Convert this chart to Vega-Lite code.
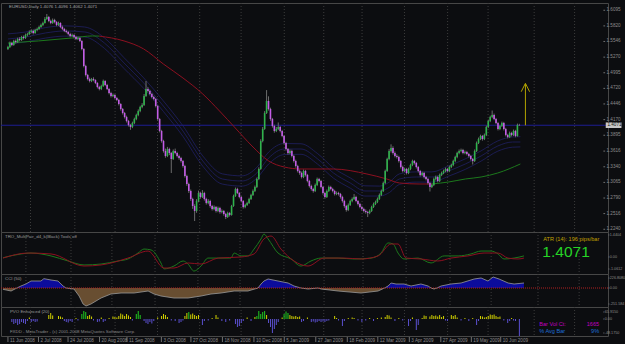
{
"$schema": "https://vega.github.io/schema/vega-lite/v6.json",
"background": "#0c0d10",
"padding": {"left": 0, "top": 2, "right": 0, "bottom": 0},
"bounds": "flush",
"spacing": 0,
"config": {
 "view": {"stroke": "#474747", "strokeWidth": 1},
 "axis": {"disable": true},
 "text": {"font": "Liberation Sans"}
},
"datasets": {
 "grid": [{"i":11.6},{"i":34.4},{"i":55.1},{"i":76.9},{"i":98.6},{"i":119.9},{"i":142.1},{"i":162.4},{"i":182.1},{"i":203.9},{"i":226.1},{"i":246.9},{"i":270.6},{"i":291.4}],
 "pt": [{"v":1.6095},{"v":1.582},{"v":1.5546},{"v":1.527},{"v":1.4995},{"v":1.472},{"v":1.4446},{"v":1.417},{"v":1.3895},{"v":1.3616},{"v":1.334},{"v":1.3065},{"v":1.279},{"v":1.2516},{"v":1.224}],
 "trt": [{"v":1.4404,"s":"1.4404"},{"v":0,"s":"0.00"},{"v":-0.784,"s":"-1.0612"}],
 "cct": [{"v":220,"s":"226.8080"},{"v":0,"s":"0.00"},{"v":-352,"s":"-251.584"}],
 "vlt": [{"v":70,"s":"65.9150"},{"v":0,"s":"0.00"},{"v":-140,"s":"-48.1750"}],
 "dt": [{"i":0,"s":"11 Jun 2008"},{"i":15.7,"s":"2 Jul 2008"},{"i":30.9,"s":"24 Jul 2008"},{"i":47.1,"s":"20 Aug 2008"},{"i":61.2,"s":"11 Sep 2008"},{"i":78.9,"s":"3 Oct 2008"},{"i":94.1,"s":"27 Oct 2008"},{"i":110.3,"s":"18 Nov 2008"},{"i":126.5,"s":"10 Dec 2008"},{"i":142.1,"s":"5 Jan 2009"},{"i":158.3,"s":"27 Jan 2009"},{"i":174.5,"s":"18 Feb 2009"},{"i":190.2,"s":"12 Mar 2009"},{"i":206.4,"s":"3 Apr 2009"},{"i":222.6,"s":"27 Apr 2009"},{"i":238.3,"s":"19 May 2009"},{"i":253.4,"s":"10 Jun 2009"}],
 "px": [
{"i":0,"o":1.5414,"h":1.5470,"l":1.5395,"c":1.5449},{"i":1,"o":1.5449,"h":1.5545,"l":1.5430,"c":1.5519},{"i":2,"o":1.5519,"h":1.5540,"l":1.5462,"c":1.5484},{"i":3,"o":1.5484,"h":1.5575,"l":1.5470,"c":1.5555},{"i":4,"o":1.5555,"h":1.5580,"l":1.5510,"c":1.5537},{"i":5,"o":1.5537,"h":1.5612,"l":1.5520,"c":1.5590},{"i":6,"o":1.5590,"h":1.5620,"l":1.5548,"c":1.5572},{"i":7,"o":1.5572,"h":1.5645,"l":1.5555,"c":1.5625},{"i":8,"o":1.5625,"h":1.5650,"l":1.5580,"c":1.5607},{"i":9,"o":1.5607,"h":1.5685,"l":1.5590,"c":1.5660},
{"i":10,"o":1.5660,"h":1.5700,"l":1.5635,"c":1.5678},{"i":11,"o":1.5678,"h":1.5740,"l":1.5660,"c":1.5713},{"i":12,"o":1.5713,"h":1.5760,"l":1.5690,"c":1.5731},{"i":13,"o":1.5731,"h":1.5755,"l":1.5670,"c":1.5695},{"i":14,"o":1.5695,"h":1.5770,"l":1.5680,"c":1.5748},{"i":15,"o":1.5748,"h":1.5790,"l":1.5725,"c":1.5766},{"i":16,"o":1.5766,"h":1.5825,"l":1.5750,"c":1.5801},{"i":17,"o":1.5801,"h":1.5860,"l":1.5785,"c":1.5836},{"i":18,"o":1.5836,"h":1.5895,"l":1.5815,"c":1.5871},{"i":19,"o":1.5871,"h":1.5975,"l":1.5860,"c":1.5942},
{"i":20,"o":1.5942,"h":1.6030,"l":1.5925,"c":1.5977},{"i":21,"o":1.5977,"h":1.5995,"l":1.5885,"c":1.5907},{"i":22,"o":1.5907,"h":1.5930,"l":1.5850,"c":1.5871},{"i":23,"o":1.5871,"h":1.5950,"l":1.5855,"c":1.5924},{"i":24,"o":1.5924,"h":1.5945,"l":1.5865,"c":1.5889},{"i":25,"o":1.5889,"h":1.5905,"l":1.5815,"c":1.5836},{"i":26,"o":1.5836,"h":1.5895,"l":1.5820,"c":1.5871},{"i":27,"o":1.5871,"h":1.5885,"l":1.5780,"c":1.5801},{"i":28,"o":1.5801,"h":1.5825,"l":1.5745,"c":1.5766},{"i":29,"o":1.5766,"h":1.5785,"l":1.5710,"c":1.5731},
{"i":30,"o":1.5731,"h":1.5755,"l":1.5690,"c":1.5713},{"i":31,"o":1.5713,"h":1.5730,"l":1.5655,"c":1.5678},{"i":32,"o":1.5678,"h":1.5700,"l":1.5620,"c":1.5643},{"i":33,"o":1.5643,"h":1.5685,"l":1.5625,"c":1.5660},{"i":34,"o":1.5660,"h":1.5675,"l":1.5600,"c":1.5625},{"i":35,"o":1.5625,"h":1.5645,"l":1.5570,"c":1.5590},{"i":36,"o":1.5590,"h":1.5630,"l":1.5570,"c":1.5607},{"i":37,"o":1.5607,"h":1.5625,"l":1.5535,"c":1.5555},{"i":38,"o":1.5555,"h":1.5570,"l":1.5390,"c":1.5414},{"i":39,"o":1.5414,"h":1.5430,"l":1.5090,"c":1.5114},
{"i":40,"o":1.5114,"h":1.5135,"l":1.4930,"c":1.4956},{"i":41,"o":1.4956,"h":1.4975,"l":1.4860,"c":1.4885},{"i":42,"o":1.4885,"h":1.4910,"l":1.4825,"c":1.4850},{"i":43,"o":1.4850,"h":1.4905,"l":1.4830,"c":1.4885},{"i":44,"o":1.4885,"h":1.4915,"l":1.4845,"c":1.4867},{"i":45,"o":1.4867,"h":1.4880,"l":1.4795,"c":1.4815},{"i":46,"o":1.4815,"h":1.4830,"l":1.4720,"c":1.4744},{"i":47,"o":1.4744,"h":1.4765,"l":1.4685,"c":1.4709},{"i":48,"o":1.4709,"h":1.4785,"l":1.4690,"c":1.4762},{"i":49,"o":1.4762,"h":1.4875,"l":1.4745,"c":1.4850},
{"i":50,"o":1.4850,"h":1.4865,"l":1.4760,"c":1.4780},{"i":51,"o":1.4780,"h":1.4800,"l":1.4690,"c":1.4709},{"i":52,"o":1.4709,"h":1.4725,"l":1.4615,"c":1.4639},{"i":53,"o":1.4639,"h":1.4660,"l":1.4560,"c":1.4586},{"i":54,"o":1.4586,"h":1.4630,"l":1.4565,"c":1.4604},{"i":55,"o":1.4604,"h":1.4620,"l":1.4530,"c":1.4551},{"i":56,"o":1.4551,"h":1.4570,"l":1.4495,"c":1.4516},{"i":57,"o":1.4516,"h":1.4535,"l":1.4420,"c":1.4445},{"i":58,"o":1.4445,"h":1.4460,"l":1.4330,"c":1.4357},{"i":59,"o":1.4357,"h":1.4375,"l":1.4260,"c":1.4287},
{"i":60,"o":1.4287,"h":1.4305,"l":1.4190,"c":1.4216},{"i":61,"o":1.4216,"h":1.4240,"l":1.4120,"c":1.4146},{"i":62,"o":1.4146,"h":1.4165,"l":1.4050,"c":1.4076},{"i":63,"o":1.4076,"h":1.4095,"l":1.3990,"c":1.4041},{"i":64,"o":1.4041,"h":1.4135,"l":1.4020,"c":1.4111},{"i":65,"o":1.4111,"h":1.4205,"l":1.4090,"c":1.4181},{"i":66,"o":1.4181,"h":1.4275,"l":1.4160,"c":1.4252},{"i":67,"o":1.4252,"h":1.4350,"l":1.4230,"c":1.4322},{"i":68,"o":1.4322,"h":1.4415,"l":1.4300,"c":1.4392},{"i":69,"o":1.4392,"h":1.4460,"l":1.4370,"c":1.4428},
{"i":70,"o":1.4428,"h":1.4620,"l":1.4410,"c":1.4586},{"i":71,"o":1.4586,"h":1.4850,"l":1.4570,"c":1.4709},{"i":72,"o":1.4709,"h":1.4740,"l":1.4650,"c":1.4674},{"i":73,"o":1.4674,"h":1.4695,"l":1.4600,"c":1.4621},{"i":74,"o":1.4621,"h":1.4640,"l":1.4545,"c":1.4569},{"i":75,"o":1.4569,"h":1.4590,"l":1.4510,"c":1.4533},{"i":76,"o":1.4533,"h":1.4550,"l":1.4385,"c":1.4410},{"i":77,"o":1.4410,"h":1.4425,"l":1.4155,"c":1.4181},{"i":78,"o":1.4181,"h":1.4200,"l":1.3945,"c":1.3970},{"i":79,"o":1.3970,"h":1.3990,"l":1.3765,"c":1.3794},
{"i":80,"o":1.3794,"h":1.3815,"l":1.3590,"c":1.3618},{"i":81,"o":1.3618,"h":1.3660,"l":1.3500,"c":1.3530},{"i":82,"o":1.3530,"h":1.3690,"l":1.3510,"c":1.3653},{"i":83,"o":1.3653,"h":1.3675,"l":1.3545,"c":1.3583},{"i":84,"o":1.3583,"h":1.3600,"l":1.3230,"c":1.3477},{"i":85,"o":1.3477,"h":1.3645,"l":1.3460,"c":1.3618},{"i":86,"o":1.3618,"h":1.3660,"l":1.3560,"c":1.3583},{"i":87,"o":1.3583,"h":1.3605,"l":1.3505,"c":1.3530},{"i":88,"o":1.3530,"h":1.3555,"l":1.3465,"c":1.3495},{"i":89,"o":1.3495,"h":1.3515,"l":1.3415,"c":1.3442},
{"i":90,"o":1.3442,"h":1.3460,"l":1.3325,"c":1.3354},{"i":91,"o":1.3354,"h":1.3375,"l":1.3150,"c":1.3178},{"i":92,"o":1.3178,"h":1.3200,"l":1.3005,"c":1.3037},{"i":93,"o":1.3037,"h":1.3060,"l":1.2880,"c":1.2914},{"i":94,"o":1.2914,"h":1.2940,"l":1.2740,"c":1.2773},{"i":95,"o":1.2773,"h":1.2795,"l":1.2600,"c":1.2650},{"i":96,"o":1.2650,"h":1.2680,"l":1.2385,"c":1.2562},{"i":97,"o":1.2562,"h":1.2770,"l":1.2530,"c":1.2738},{"i":98,"o":1.2738,"h":1.2920,"l":1.2715,"c":1.2879},{"i":99,"o":1.2879,"h":1.2900,"l":1.2780,"c":1.2808},
{"i":100,"o":1.2808,"h":1.2930,"l":1.2790,"c":1.2879},{"i":101,"o":1.2879,"h":1.2900,"l":1.2745,"c":1.2773},{"i":102,"o":1.2773,"h":1.2795,"l":1.2675,"c":1.2703},{"i":103,"o":1.2703,"h":1.2770,"l":1.2680,"c":1.2738},{"i":104,"o":1.2738,"h":1.2760,"l":1.2620,"c":1.2650},{"i":105,"o":1.2650,"h":1.2670,"l":1.2570,"c":1.2597},{"i":106,"o":1.2597,"h":1.2660,"l":1.2575,"c":1.2632},{"i":107,"o":1.2632,"h":1.2650,"l":1.2535,"c":1.2562},{"i":108,"o":1.2562,"h":1.2640,"l":1.2540,"c":1.2615},{"i":109,"o":1.2615,"h":1.2635,"l":1.2515,"c":1.2544},
{"i":110,"o":1.2544,"h":1.2590,"l":1.2520,"c":1.2562},{"i":111,"o":1.2562,"h":1.2580,"l":1.2480,"c":1.2509},{"i":112,"o":1.2509,"h":1.2530,"l":1.2420,"c":1.2456},{"i":113,"o":1.2456,"h":1.2550,"l":1.2440,"c":1.2527},{"i":114,"o":1.2527,"h":1.2545,"l":1.2465,"c":1.2491},{"i":115,"o":1.2491,"h":1.2670,"l":1.2480,"c":1.2650},{"i":116,"o":1.2650,"h":1.2850,"l":1.2635,"c":1.2826},{"i":117,"o":1.2826,"h":1.2975,"l":1.2810,"c":1.2949},{"i":118,"o":1.2949,"h":1.2970,"l":1.2860,"c":1.2879},{"i":119,"o":1.2879,"h":1.2895,"l":1.2785,"c":1.2808},
{"i":120,"o":1.2808,"h":1.2825,"l":1.2715,"c":1.2738},{"i":121,"o":1.2738,"h":1.2755,"l":1.2605,"c":1.2632},{"i":122,"o":1.2632,"h":1.2690,"l":1.2610,"c":1.2668},{"i":123,"o":1.2668,"h":1.2725,"l":1.2650,"c":1.2703},{"i":124,"o":1.2703,"h":1.2795,"l":1.2685,"c":1.2773},{"i":125,"o":1.2773,"h":1.2865,"l":1.2755,"c":1.2844},{"i":126,"o":1.2844,"h":1.2940,"l":1.2825,"c":1.2914},{"i":127,"o":1.2914,"h":1.3010,"l":1.2895,"c":1.2984},{"i":128,"o":1.2984,"h":1.3150,"l":1.2965,"c":1.3125},{"i":129,"o":1.3125,"h":1.3330,"l":1.3105,"c":1.3301},
{"i":130,"o":1.3301,"h":1.3825,"l":1.3285,"c":1.3794},{"i":131,"o":1.3794,"h":1.4040,"l":1.3770,"c":1.4005},{"i":132,"o":1.4005,"h":1.4320,"l":1.3990,"c":1.4287},{"i":133,"o":1.4287,"h":1.4690,"l":1.4270,"c":1.4498},{"i":134,"o":1.4498,"h":1.4580,"l":1.4330,"c":1.4357},{"i":135,"o":1.4357,"h":1.4380,"l":1.4150,"c":1.4181},{"i":136,"o":1.4181,"h":1.4200,"l":1.4030,"c":1.4058},{"i":137,"o":1.4058,"h":1.4080,"l":1.3940,"c":1.3970},{"i":138,"o":1.3970,"h":1.4040,"l":1.3950,"c":1.4005},{"i":139,"o":1.4005,"h":1.4120,"l":1.3985,"c":1.4041},
{"i":140,"o":1.4041,"h":1.4060,"l":1.3945,"c":1.3970},{"i":141,"o":1.3970,"h":1.3990,"l":1.3860,"c":1.3882},{"i":142,"o":1.3882,"h":1.3900,"l":1.3735,"c":1.3759},{"i":143,"o":1.3759,"h":1.3780,"l":1.3625,"c":1.3653},{"i":144,"o":1.3653,"h":1.3670,"l":1.3555,"c":1.3583},{"i":145,"o":1.3583,"h":1.3645,"l":1.3560,"c":1.3618},{"i":146,"o":1.3618,"h":1.3640,"l":1.3505,"c":1.3530},{"i":147,"o":1.3530,"h":1.3550,"l":1.3415,"c":1.3442},{"i":148,"o":1.3442,"h":1.3465,"l":1.3325,"c":1.3354},{"i":149,"o":1.3354,"h":1.3375,"l":1.3240,"c":1.3266},
{"i":150,"o":1.3266,"h":1.3290,"l":1.3200,"c":1.3231},{"i":151,"o":1.3231,"h":1.3255,"l":1.3135,"c":1.3160},{"i":152,"o":1.3160,"h":1.3290,"l":1.3140,"c":1.3266},{"i":153,"o":1.3266,"h":1.3285,"l":1.3170,"c":1.3196},{"i":154,"o":1.3196,"h":1.3215,"l":1.3065,"c":1.3090},{"i":155,"o":1.3090,"h":1.3110,"l":1.2975,"c":1.3002},{"i":156,"o":1.3002,"h":1.3025,"l":1.2920,"c":1.2949},{"i":157,"o":1.2949,"h":1.2970,"l":1.2885,"c":1.2914},{"i":158,"o":1.2914,"h":1.3045,"l":1.2895,"c":1.3019},{"i":159,"o":1.3019,"h":1.3150,"l":1.3000,"c":1.3125},
{"i":160,"o":1.3125,"h":1.3145,"l":1.3065,"c":1.3090},{"i":161,"o":1.3090,"h":1.3110,"l":1.2960,"c":1.2984},{"i":162,"o":1.2984,"h":1.3005,"l":1.2850,"c":1.2879},{"i":163,"o":1.2879,"h":1.2900,"l":1.2780,"c":1.2808},{"i":164,"o":1.2808,"h":1.2940,"l":1.2790,"c":1.2914},{"i":165,"o":1.2914,"h":1.3010,"l":1.2895,"c":1.2984},{"i":166,"o":1.2984,"h":1.3005,"l":1.2925,"c":1.2949},{"i":167,"o":1.2949,"h":1.2970,"l":1.2890,"c":1.2914},{"i":168,"o":1.2914,"h":1.2935,"l":1.2835,"c":1.2861},{"i":169,"o":1.2861,"h":1.2905,"l":1.2840,"c":1.2879},
{"i":170,"o":1.2879,"h":1.2900,"l":1.2835,"c":1.2861},{"i":171,"o":1.2861,"h":1.2880,"l":1.2780,"c":1.2808},{"i":172,"o":1.2808,"h":1.2830,"l":1.2710,"c":1.2738},{"i":173,"o":1.2738,"h":1.2760,"l":1.2620,"c":1.2650},{"i":174,"o":1.2650,"h":1.2670,"l":1.2550,"c":1.2580},{"i":175,"o":1.2580,"h":1.2695,"l":1.2560,"c":1.2668},{"i":176,"o":1.2668,"h":1.2760,"l":1.2650,"c":1.2738},{"i":177,"o":1.2738,"h":1.2800,"l":1.2715,"c":1.2773},{"i":178,"o":1.2773,"h":1.2860,"l":1.2755,"c":1.2808},{"i":179,"o":1.2808,"h":1.2830,"l":1.2715,"c":1.2738},
{"i":180,"o":1.2738,"h":1.2755,"l":1.2660,"c":1.2685},{"i":181,"o":1.2685,"h":1.2705,"l":1.2610,"c":1.2632},{"i":182,"o":1.2632,"h":1.2655,"l":1.2570,"c":1.2597},{"i":183,"o":1.2597,"h":1.2620,"l":1.2535,"c":1.2562},{"i":184,"o":1.2562,"h":1.2590,"l":1.2515,"c":1.2544},{"i":185,"o":1.2544,"h":1.2565,"l":1.2455,"c":1.2527},{"i":186,"o":1.2527,"h":1.2590,"l":1.2505,"c":1.2562},{"i":187,"o":1.2562,"h":1.2655,"l":1.2545,"c":1.2632},{"i":188,"o":1.2632,"h":1.2710,"l":1.2615,"c":1.2685},{"i":189,"o":1.2685,"h":1.2745,"l":1.2665,"c":1.2720},
{"i":190,"o":1.2720,"h":1.2800,"l":1.2700,"c":1.2773},{"i":191,"o":1.2773,"h":1.2870,"l":1.2755,"c":1.2844},{"i":192,"o":1.2844,"h":1.2940,"l":1.2825,"c":1.2914},{"i":193,"o":1.2914,"h":1.3080,"l":1.2895,"c":1.3055},{"i":194,"o":1.3055,"h":1.3290,"l":1.3035,"c":1.3266},{"i":195,"o":1.3266,"h":1.3500,"l":1.3250,"c":1.3477},{"i":196,"o":1.3477,"h":1.3650,"l":1.3455,"c":1.3618},{"i":197,"o":1.3618,"h":1.3735,"l":1.3590,"c":1.3671},{"i":198,"o":1.3671,"h":1.3700,"l":1.3555,"c":1.3583},{"i":199,"o":1.3583,"h":1.3610,"l":1.3505,"c":1.3530},
{"i":200,"o":1.3530,"h":1.3560,"l":1.3485,"c":1.3512},{"i":201,"o":1.3512,"h":1.3535,"l":1.3415,"c":1.3442},{"i":202,"o":1.3442,"h":1.3460,"l":1.3310,"c":1.3336},{"i":203,"o":1.3336,"h":1.3360,"l":1.3240,"c":1.3266},{"i":204,"o":1.3266,"h":1.3325,"l":1.3245,"c":1.3301},{"i":205,"o":1.3301,"h":1.3320,"l":1.3205,"c":1.3231},{"i":206,"o":1.3231,"h":1.3325,"l":1.3210,"c":1.3301},{"i":207,"o":1.3301,"h":1.3395,"l":1.3280,"c":1.3372},{"i":208,"o":1.3372,"h":1.3465,"l":1.3350,"c":1.3442},{"i":209,"o":1.3442,"h":1.3460,"l":1.3380,"c":1.3407},
{"i":210,"o":1.3407,"h":1.3425,"l":1.3310,"c":1.3336},{"i":211,"o":1.3336,"h":1.3355,"l":1.3240,"c":1.3266},{"i":212,"o":1.3266,"h":1.3285,"l":1.3170,"c":1.3196},{"i":213,"o":1.3196,"h":1.3255,"l":1.3175,"c":1.3231},{"i":214,"o":1.3231,"h":1.3250,"l":1.3135,"c":1.3160},{"i":215,"o":1.3160,"h":1.3180,"l":1.3100,"c":1.3125},{"i":216,"o":1.3125,"h":1.3145,"l":1.3030,"c":1.3055},{"i":217,"o":1.3055,"h":1.3075,"l":1.2905,"c":1.2984},{"i":218,"o":1.2984,"h":1.3045,"l":1.2965,"c":1.3019},{"i":219,"o":1.3019,"h":1.3150,"l":1.3000,"c":1.3125},
{"i":220,"o":1.3125,"h":1.3185,"l":1.3100,"c":1.3160},{"i":221,"o":1.3160,"h":1.3180,"l":1.3065,"c":1.3090},{"i":222,"o":1.3090,"h":1.3220,"l":1.3070,"c":1.3196},{"i":223,"o":1.3196,"h":1.3255,"l":1.3175,"c":1.3231},{"i":224,"o":1.3231,"h":1.3290,"l":1.3210,"c":1.3266},{"i":225,"o":1.3266,"h":1.3325,"l":1.3245,"c":1.3301},{"i":226,"o":1.3301,"h":1.3320,"l":1.3240,"c":1.3266},{"i":227,"o":1.3266,"h":1.3360,"l":1.3245,"c":1.3336},{"i":228,"o":1.3336,"h":1.3395,"l":1.3315,"c":1.3372},{"i":229,"o":1.3372,"h":1.3465,"l":1.3350,"c":1.3442},
{"i":230,"o":1.3442,"h":1.3535,"l":1.3420,"c":1.3512},{"i":231,"o":1.3512,"h":1.3605,"l":1.3490,"c":1.3583},{"i":232,"o":1.3583,"h":1.3645,"l":1.3560,"c":1.3618},{"i":233,"o":1.3618,"h":1.3660,"l":1.3595,"c":1.3636},{"i":234,"o":1.3636,"h":1.3655,"l":1.3560,"c":1.3583},{"i":235,"o":1.3583,"h":1.3625,"l":1.3560,"c":1.3600},{"i":236,"o":1.3600,"h":1.3620,"l":1.3540,"c":1.3565},{"i":237,"o":1.3565,"h":1.3585,"l":1.3505,"c":1.3530},{"i":238,"o":1.3530,"h":1.3550,"l":1.3450,"c":1.3477},{"i":239,"o":1.3477,"h":1.3495,"l":1.3380,"c":1.3442},
{"i":240,"o":1.3442,"h":1.3645,"l":1.3425,"c":1.3618},{"i":241,"o":1.3618,"h":1.3785,"l":1.3600,"c":1.3759},{"i":242,"o":1.3759,"h":1.3855,"l":1.3740,"c":1.3829},{"i":243,"o":1.3829,"h":1.3905,"l":1.3810,"c":1.3882},{"i":244,"o":1.3882,"h":1.3900,"l":1.3800,"c":1.3829},{"i":245,"o":1.3829,"h":1.3925,"l":1.3810,"c":1.3900},{"i":246,"o":1.3900,"h":1.4065,"l":1.3880,"c":1.4041},{"i":247,"o":1.4041,"h":1.4170,"l":1.4020,"c":1.4146},{"i":248,"o":1.4146,"h":1.4240,"l":1.4125,"c":1.4216},{"i":249,"o":1.4216,"h":1.4330,"l":1.4195,"c":1.4252},
{"i":250,"o":1.4252,"h":1.4275,"l":1.4160,"c":1.4181},{"i":251,"o":1.4181,"h":1.4200,"l":1.4090,"c":1.4111},{"i":252,"o":1.4111,"h":1.4130,"l":1.3980,"c":1.4005},{"i":253,"o":1.4005,"h":1.4080,"l":1.3985,"c":1.4058},{"i":254,"o":1.4058,"h":1.4135,"l":1.4040,"c":1.4111},{"i":255,"o":1.4111,"h":1.4130,"l":1.3980,"c":1.4005},{"i":256,"o":1.4005,"h":1.4025,"l":1.3875,"c":1.3900},{"i":257,"o":1.3900,"h":1.3920,"l":1.3840,"c":1.3864},{"i":258,"o":1.3864,"h":1.3960,"l":1.3845,"c":1.3935},{"i":259,"o":1.3935,"h":1.3955,"l":1.3875,"c":1.3900},
{"i":260,"o":1.3900,"h":1.3995,"l":1.3880,"c":1.3970},{"i":261,"o":1.3970,"h":1.3990,"l":1.3860,"c":1.3882},{"i":262,"o":1.3882,"h":1.4100,"l":1.3870,"c":1.4076},{"i":263,"o":1.4076,"h":1.4096,"l":1.4062,"c":1.4071}
 ],
 "bma": [
{"i":0,"p":1.5590,"k":"m"},{"i":9.1,"p":1.5625,"k":"m"},{"i":19.2,"p":1.5695,"k":"m"},{"i":29.3,"p":1.5731,"k":"m"},{"i":39.5,"p":1.5713,"k":"m"},{"i":49.6,"p":1.5519,"k":"m"},{"i":59.7,"p":1.5167,"k":"m"},{"i":69.8,"p":1.4815,"k":"m"},{"i":79.9,"p":1.4410,"k":"m"},{"i":90,"p":1.3970,"k":"m"},{"i":100.2,"p":1.3442,"k":"m"},{"i":110.3,"p":1.3125,"k":"m"},{"i":120.4,"p":1.3090,"k":"m"},{"i":128,"p":1.3231,"k":"m"},{"i":134.1,"p":1.3495,"k":"m"},{"i":142.1,"p":1.3653,"k":"m"},{"i":150.7,"p":1.3653,"k":"m"},{"i":159.3,"p":1.3477,"k":"m"},{"i":167.4,"p":1.3231,"k":"m"},{"i":176,"p":1.3055,"k":"m"},{"i":183.6,"p":1.2914,"k":"m"},{"i":191.2,"p":1.2914,"k":"m"},{"i":196.3,"p":1.2984,"k":"m"},{"i":201.3,"p":1.3125,"k":"m"},{"i":209.9,"p":1.3160,"k":"m"},{"i":218,"p":1.3160,"k":"m"},{"i":226.6,"p":1.3266,"k":"m"},{"i":235.2,"p":1.3389,"k":"m"},{"i":243.3,"p":1.3530,"k":"m"},{"i":251.9,"p":1.3706,"k":"m"},{"i":259.5,"p":1.3776,"k":"m"},{"i":263.5,"p":1.3776,"k":"m"},
{"i":0,"p":1.5680,"k":"u"},{"i":9.1,"p":1.5712,"k":"u"},{"i":19.2,"p":1.5790,"k":"u"},{"i":29.3,"p":1.5820,"k":"u"},{"i":39.5,"p":1.5800,"k":"u"},{"i":49.6,"p":1.5610,"k":"u"},{"i":59.7,"p":1.5260,"k":"u"},{"i":69.8,"p":1.4905,"k":"u"},{"i":79.9,"p":1.4500,"k":"u"},{"i":90,"p":1.4060,"k":"u"},{"i":100.2,"p":1.3530,"k":"u"},{"i":110.3,"p":1.3215,"k":"u"},{"i":120.4,"p":1.3180,"k":"u"},{"i":128,"p":1.3330,"k":"u"},{"i":134.1,"p":1.3600,"k":"u"},{"i":142.1,"p":1.3750,"k":"u"},{"i":150.7,"p":1.3745,"k":"u"},{"i":159.3,"p":1.3570,"k":"u"},{"i":167.4,"p":1.3320,"k":"u"},{"i":176,"p":1.3145,"k":"u"},{"i":183.6,"p":1.3005,"k":"u"},{"i":191.2,"p":1.3000,"k":"u"},{"i":196.3,"p":1.3075,"k":"u"},{"i":201.3,"p":1.3215,"k":"u"},{"i":209.9,"p":1.3250,"k":"u"},{"i":218,"p":1.3250,"k":"u"},{"i":226.6,"p":1.3355,"k":"u"},{"i":235.2,"p":1.3480,"k":"u"},{"i":243.3,"p":1.3620,"k":"u"},{"i":251.9,"p":1.3795,"k":"u"},{"i":259.5,"p":1.3865,"k":"u"},{"i":263.5,"p":1.3870,"k":"u"},
{"i":0,"p":1.5500,"k":"l"},{"i":9.1,"p":1.5538,"k":"l"},{"i":19.2,"p":1.5605,"k":"l"},{"i":29.3,"p":1.5640,"k":"l"},{"i":39.5,"p":1.5625,"k":"l"},{"i":49.6,"p":1.5425,"k":"l"},{"i":59.7,"p":1.5070,"k":"l"},{"i":69.8,"p":1.4720,"k":"l"},{"i":79.9,"p":1.4315,"k":"l"},{"i":90,"p":1.3875,"k":"l"},{"i":100.2,"p":1.3350,"k":"l"},{"i":110.3,"p":1.3035,"k":"l"},{"i":120.4,"p":1.3000,"k":"l"},{"i":128,"p":1.3140,"k":"l"},{"i":134.1,"p":1.3390,"k":"l"},{"i":142.1,"p":1.3555,"k":"l"},{"i":150.7,"p":1.3560,"k":"l"},{"i":159.3,"p":1.3385,"k":"l"},{"i":167.4,"p":1.3140,"k":"l"},{"i":176,"p":1.2965,"k":"l"},{"i":183.6,"p":1.2825,"k":"l"},{"i":191.2,"p":1.2825,"k":"l"},{"i":196.3,"p":1.2890,"k":"l"},{"i":201.3,"p":1.3030,"k":"l"},{"i":209.9,"p":1.3070,"k":"l"},{"i":218,"p":1.3070,"k":"l"},{"i":226.6,"p":1.3175,"k":"l"},{"i":235.2,"p":1.3295,"k":"l"},{"i":243.3,"p":1.3440,"k":"l"},{"i":251.9,"p":1.3615,"k":"l"},{"i":259.5,"p":1.3685,"k":"l"},{"i":263.5,"p":1.3690,"k":"l"}
 ],
 "lma": [
{"i":0,"p":1.5519,"seg":1,"d":"up"},{"i":15.7,"p":1.5555,"seg":1,"d":"up"},{"i":32.9,"p":1.5607,"seg":1,"d":"up"},{"i":43.5,"p":1.5643,"seg":1,"d":"up"},{"i":47,"p":1.5640,"seg":1,"d":"up"},
{"i":47,"p":1.5640,"seg":2,"d":"dn"},{"i":59.7,"p":1.5555,"seg":2,"d":"dn"},{"i":69.8,"p":1.5414,"seg":2,"d":"dn"},{"i":79.9,"p":1.5150,"seg":2,"d":"dn"},{"i":90,"p":1.4903,"seg":2,"d":"dn"},{"i":100.2,"p":1.4621,"seg":2,"d":"dn"},{"i":108.8,"p":1.4322,"seg":2,"d":"dn"},{"i":116.9,"p":1.4023,"seg":2,"d":"dn"},{"i":125.5,"p":1.3706,"seg":2,"d":"dn"},{"i":134.1,"p":1.3442,"seg":2,"d":"dn"},{"i":142.1,"p":1.3336,"seg":2,"d":"dn"},{"i":150.7,"p":1.3301,"seg":2,"d":"dn"},{"i":167.4,"p":1.3301,"seg":2,"d":"dn"},{"i":184.6,"p":1.3213,"seg":2,"d":"dn"},{"i":194.8,"p":1.3125,"seg":2,"d":"dn"},{"i":201.3,"p":1.3055,"seg":2,"d":"dn"},{"i":211.4,"p":1.3037,"seg":2,"d":"dn"},{"i":218,"p":1.3037,"seg":2,"d":"dn"},
{"i":218,"p":1.3037,"seg":3,"d":"up"},{"i":226.6,"p":1.3072,"seg":3,"d":"up"},{"i":235.2,"p":1.3125,"seg":3,"d":"up"},{"i":243.3,"p":1.3160,"seg":3,"d":"up"},{"i":251.9,"p":1.3231,"seg":3,"d":"up"},{"i":263.5,"p":1.3389,"seg":3,"d":"up"}
 ],
 "tro": [
{"i":0,"v":-0.05,"s":"g"},{"i":9.1,"v":0.2,"s":"g"},{"i":14.2,"v":0.26,"s":"g"},{"i":24.3,"v":0.07,"s":"g"},{"i":32.9,"v":-0.26,"s":"g"},{"i":41,"v":-0.52,"s":"g"},{"i":49.6,"v":-0.46,"s":"g"},{"i":58.2,"v":-0.26,"s":"g"},{"i":63.2,"v":-0.13,"s":"g"},{"i":68.3,"v":0.26,"s":"g"},{"i":71.3,"v":0.52,"s":"g"},{"i":74.9,"v":0.46,"s":"g"},{"i":79.9,"v":-0.39,"s":"g"},{"i":81.4,"v":-0.78,"s":"g"},{"i":86.5,"v":-0.59,"s":"g"},{"i":91.1,"v":-0.26,"s":"g"},{"i":93.6,"v":-0.46,"s":"g"},{"i":96.6,"v":-0.92,"s":"g"},{"i":100.2,"v":-0.59,"s":"g"},{"i":103.7,"v":-0.07,"s":"g"},{"i":108.8,"v":-0.07,"s":"g"},{"i":115.3,"v":-0.07,"s":"g"},{"i":116.9,"v":0.26,"s":"g"},{"i":120.4,"v":0.07,"s":"g"},{"i":123.9,"v":0.07,"s":"g"},{"i":127,"v":0.52,"s":"g"},{"i":130.5,"v":1.18,"s":"g"},{"i":132,"v":1.5,"s":"g"},{"i":134.1,"v":1.18,"s":"g"},{"i":139.1,"v":0.26,"s":"g"},{"i":145.7,"v":-0.13,"s":"g"},{"i":150.7,"v":-0.59,"s":"g"},{"i":155.8,"v":-0.26,"s":"g"},{"i":160.9,"v":-0.07,"s":"g"},{"i":169.5,"v":-0.07,"s":"g"},{"i":177.6,"v":-0.13,"s":"g"},{"i":186.2,"v":-0.07,"s":"g"},{"i":191.2,"v":0.26,"s":"g"},{"i":194.8,"v":0.92,"s":"g"},{"i":197.3,"v":0.85,"s":"g"},{"i":199.8,"v":0.26,"s":"g"},{"i":202.8,"v":-0.13,"s":"g"},{"i":209.9,"v":-0.07,"s":"g"},{"i":216.5,"v":-0.39,"s":"g"},{"i":223.1,"v":0.07,"s":"g"},{"i":230.2,"v":0.07,"s":"g"},{"i":236.7,"v":0.2,"s":"g"},{"i":241.8,"v":0.39,"s":"g"},{"i":246.9,"v":0.39,"s":"g"},{"i":250.4,"v":0.2,"s":"g"},{"i":253.4,"v":-0.13,"s":"g"},{"i":258.5,"v":-0.07,"s":"g"},{"i":263.5,"v":0.07,"s":"g"},
{"i":0,"v":-0.07,"s":"r"},{"i":12.7,"v":0.26,"s":"r"},{"i":24.3,"v":0.2,"s":"r"},{"i":41,"v":-0.59,"s":"r"},{"i":49.6,"v":-0.52,"s":"r"},{"i":63.2,"v":-0.07,"s":"r"},{"i":73.4,"v":0.39,"s":"r"},{"i":81.4,"v":-0.72,"s":"r"},{"i":86.5,"v":-0.72,"s":"r"},{"i":93.6,"v":-0.39,"s":"r"},{"i":100.2,"v":-0.46,"s":"r"},{"i":108.8,"v":-0.07,"s":"r"},{"i":120.4,"v":0,"s":"r"},{"i":127,"v":0.2,"s":"r"},{"i":132,"v":1.18,"s":"r"},{"i":135.6,"v":1.37,"s":"r"},{"i":140.6,"v":0.52,"s":"r"},{"i":147.2,"v":-0.26,"s":"r"},{"i":154.3,"v":-0.59,"s":"r"},{"i":162.4,"v":-0.07,"s":"r"},{"i":172.5,"v":-0.07,"s":"r"},{"i":181.1,"v":-0.13,"s":"r"},{"i":189.7,"v":0.07,"s":"r"},{"i":196.3,"v":0.85,"s":"r"},{"i":199.8,"v":0.85,"s":"r"},{"i":203.9,"v":-0.07,"s":"r"},{"i":211.4,"v":-0.13,"s":"r"},{"i":220,"v":-0.26,"s":"r"},{"i":226.6,"v":-0.07,"s":"r"},{"i":235.2,"v":0.07,"s":"r"},{"i":243.3,"v":0.26,"s":"r"},{"i":250.4,"v":0.26,"s":"r"},{"i":255.4,"v":-0.07,"s":"r"},{"i":260.5,"v":-0.13,"s":"r"},{"i":263.5,"v":-0.07,"s":"r"}
 ],
 "cci": [
{"i":0,"v":-29},{"i":4.1,"v":-66},{"i":7,"v":0},{"i":9.1,"v":44},{"i":11.6,"v":88},{"i":14.2,"v":154},{"i":19.2,"v":154},{"i":20.7,"v":205},{"i":24.3,"v":176},{"i":27.8,"v":154},{"i":30.4,"v":44},{"i":31.9,"v":0},{"i":35.9,"v":-22},{"i":38.5,"v":-176},{"i":40.5,"v":-352},{"i":42,"v":-396},{"i":44.5,"v":-352},{"i":49.6,"v":-220},{"i":54.6,"v":-132},{"i":59.7,"v":-110},{"i":66.3,"v":-110},{"i":73.4,"v":-66},{"i":76.4,"v":-132},{"i":79.9,"v":-176},{"i":86.5,"v":-220},{"i":93.6,"v":-220},{"i":100.2,"v":-176},{"i":105.2,"v":-132},{"i":110.3,"v":-110},{"i":116.9,"v":-66},{"i":123.9,"v":-66},{"i":129,"v":0},{"i":130.5,"v":88},{"i":132,"v":154},{"i":134.1,"v":198},{"i":139.1,"v":154},{"i":144.2,"v":110},{"i":147.2,"v":44},{"i":150.7,"v":0},{"i":154.3,"v":-22},{"i":159.3,"v":0},{"i":160.9,"v":-22},{"i":169.5,"v":-66},{"i":181.1,"v":-110},{"i":189.7,"v":-66},{"i":193,"v":0},{"i":194.8,"v":44},{"i":196.3,"v":110},{"i":198.8,"v":88},{"i":202.8,"v":88},{"i":206.4,"v":44},{"i":211.4,"v":88},{"i":215,"v":44},{"i":216.5,"v":0},{"i":218,"v":-22},{"i":219.5,"v":0},{"i":221.6,"v":44},{"i":226.6,"v":88},{"i":231.7,"v":110},{"i":238.3,"v":198},{"i":241.8,"v":220},{"i":245.3,"v":154},{"i":247.9,"v":242},{"i":250.9,"v":198},{"i":255.5,"v":110},{"i":258.5,"v":88},{"i":263.5,"v":110}
 ],
 "vol": [
{"i":2,"v":-30,"t":"p"},{"i":3,"v":-50,"t":"p"},{"i":4,"v":-40,"t":"p"},{"i":5,"v":-60,"t":"p"},{"i":6,"v":-50,"t":"p"},{"i":7,"v":-30,"t":"p"},{"i":8,"v":-40,"t":"p"},{"i":9,"v":-50,"t":"p"},{"i":10,"v":-20,"t":"p"},{"i":11,"v":15,"t":"y"},{"i":12,"v":-30,"t":"p"},{"i":13,"v":-20,"t":"p"},{"i":14,"v":-30,"t":"p"},{"i":15,"v":-25,"t":"p"},
{"i":21,"v":40,"t":"y"},{"i":22,"v":60,"t":"y"},{"i":23,"v":35,"t":"y"},{"i":26,"v":30,"t":"y"},{"i":27,"v":25,"t":"y"},{"i":28,"v":15,"t":"y"},{"i":29,"v":-20,"t":"p"},{"i":30,"v":-30,"t":"p"},{"i":31,"v":-35,"t":"p"},{"i":32,"v":-20,"t":"p"},{"i":33,"v":-30,"t":"p"},{"i":35,"v":10,"t":"y"},{"i":36,"v":-15,"t":"p"},
{"i":38,"v":50,"t":"g"},{"i":39,"v":80,"t":"g"},{"i":40,"v":70,"t":"g"},{"i":41,"v":30,"t":"y"},{"i":42,"v":40,"t":"y"},{"i":43,"v":25,"t":"y"},{"i":44,"v":-15,"t":"p"},{"i":46,"v":-30,"t":"p"},{"i":47,"v":-25,"t":"p"},{"i":48,"v":15,"t":"y"},{"i":49,"v":-30,"t":"p"},{"i":50,"v":-20,"t":"p"},
{"i":52,"v":10,"t":"y"},{"i":54,"v":25,"t":"y"},{"i":55,"v":20,"t":"y"},{"i":56,"v":15,"t":"y"},{"i":57,"v":30,"t":"y"},{"i":58,"v":55,"t":"y"},{"i":59,"v":45,"t":"y"},{"i":60,"v":30,"t":"y"},{"i":61,"v":50,"t":"y"},{"i":62,"v":35,"t":"y"},{"i":63,"v":20,"t":"y"},{"i":64,"v":-15,"t":"p"},{"i":66,"v":50,"t":"g"},{"i":67,"v":80,"t":"g"},{"i":68,"v":40,"t":"g"},
{"i":70,"v":-20,"t":"p"},{"i":71,"v":-40,"t":"p"},{"i":72,"v":-50,"t":"p"},{"i":73,"v":-30,"t":"p"},{"i":74,"v":-45,"t":"p"},{"i":75,"v":-20,"t":"p"},{"i":77,"v":15,"t":"y"},{"i":79,"v":30,"t":"y"},{"i":80,"v":50,"t":"y"},{"i":81,"v":40,"t":"y"},{"i":82,"v":20,"t":"y"},{"i":84,"v":-15,"t":"p"},{"i":86,"v":-20,"t":"p"},{"i":88,"v":-40,"t":"p"},{"i":89,"v":-30,"t":"p"},{"i":90,"v":-15,"t":"p"},
{"i":91,"v":30,"t":"y"},{"i":92,"v":60,"t":"y"},{"i":93,"v":70,"t":"g"},{"i":94,"v":45,"t":"y"},{"i":95,"v":55,"t":"y"},{"i":96,"v":40,"t":"y"},{"i":97,"v":30,"t":"y"},{"i":98,"v":40,"t":"y"},{"i":100,"v":-60,"t":"p"},{"i":101,"v":-20,"t":"p"},{"i":103,"v":-15,"t":"p"},{"i":105,"v":10,"t":"y"},{"i":107,"v":40,"t":"y"},{"i":108,"v":15,"t":"y"},{"i":110,"v":-20,"t":"p"},{"i":112,"v":-30,"t":"p"},{"i":114,"v":-15,"t":"p"},
{"i":117,"v":-50,"t":"p"},{"i":118,"v":-80,"t":"p"},{"i":119,"v":-70,"t":"p"},{"i":120,"v":-40,"t":"p"},{"i":121,"v":-20,"t":"p"},{"i":123,"v":15,"t":"y"},{"i":125,"v":-20,"t":"p"},{"i":127,"v":20,"t":"y"},{"i":128,"v":30,"t":"g"},{"i":129,"v":80,"t":"g"},{"i":130,"v":50,"t":"g"},{"i":131,"v":70,"t":"g"},{"i":132,"v":80,"t":"g"},{"i":133,"v":40,"t":"y"},
{"i":134,"v":-40,"t":"p"},{"i":135,"v":-80,"t":"p"},{"i":136,"v":-140,"t":"p"},{"i":137,"v":-100,"t":"p"},{"i":138,"v":-60,"t":"p"},{"i":139,"v":-30,"t":"p"},{"i":141,"v":15,"t":"y"},{"i":142,"v":50,"t":"g"},{"i":143,"v":75,"t":"g"},{"i":144,"v":60,"t":"g"},{"i":145,"v":40,"t":"y"},{"i":146,"v":30,"t":"y"},{"i":147,"v":25,"t":"y"},{"i":148,"v":30,"t":"y"},{"i":149,"v":20,"t":"y"},{"i":150,"v":25,"t":"y"},{"i":151,"v":-30,"t":"p"},{"i":152,"v":-20,"t":"p"},
{"i":154,"v":15,"t":"y"},{"i":156,"v":-30,"t":"p"},{"i":157,"v":-25,"t":"p"},{"i":158,"v":-35,"t":"p"},{"i":159,"v":-30,"t":"p"},{"i":160,"v":-20,"t":"p"},{"i":161,"v":-30,"t":"p"},{"i":162,"v":-25,"t":"p"},{"i":163,"v":-30,"t":"p"},{"i":164,"v":-20,"t":"p"},{"i":165,"v":-15,"t":"p"},
{"i":168,"v":30,"t":"y"},{"i":169,"v":10,"t":"y"},{"i":170,"v":-15,"t":"p"},{"i":172,"v":-70,"t":"p"},{"i":173,"v":-20,"t":"p"},{"i":175,"v":10,"t":"y"},{"i":177,"v":15,"t":"y"},{"i":178,"v":10,"t":"y"},{"i":180,"v":-15,"t":"p"},{"i":182,"v":-30,"t":"p"},{"i":184,"v":-15,"t":"p"},{"i":186,"v":10,"t":"y"},{"i":188,"v":-20,"t":"p"},{"i":190,"v":10,"t":"y"},{"i":192,"v":15,"t":"y"},
{"i":194,"v":20,"t":"y"},{"i":195,"v":40,"t":"y"},{"i":196,"v":35,"t":"y"},{"i":197,"v":15,"t":"y"},{"i":199,"v":-20,"t":"p"},{"i":201,"v":10,"t":"y"},{"i":203,"v":-15,"t":"p"},{"i":206,"v":-70,"t":"p"},{"i":207,"v":-20,"t":"p"},{"i":208,"v":15,"t":"y"},{"i":210,"v":-110,"t":"p"},{"i":211,"v":-60,"t":"p"},{"i":213,"v":10,"t":"y"},
{"i":214,"v":35,"t":"y"},{"i":215,"v":30,"t":"y"},{"i":217,"v":25,"t":"y"},{"i":218,"v":40,"t":"y"},{"i":219,"v":30,"t":"y"},{"i":220,"v":35,"t":"y"},{"i":221,"v":25,"t":"y"},{"i":222,"v":40,"t":"y"},{"i":223,"v":20,"t":"y"},{"i":224,"v":30,"t":"y"},{"i":225,"v":-15,"t":"p"},{"i":226,"v":-20,"t":"p"},{"i":228,"v":40,"t":"y"},{"i":229,"v":30,"t":"y"},{"i":230,"v":40,"t":"y"},{"i":231,"v":15,"t":"y"},{"i":233,"v":-15,"t":"p"},{"i":235,"v":10,"t":"y"},{"i":237,"v":-20,"t":"p"},{"i":239,"v":10,"t":"y"},
{"i":241,"v":-60,"t":"p"},{"i":242,"v":-20,"t":"p"},{"i":243,"v":30,"t":"y"},{"i":244,"v":25,"t":"y"},{"i":245,"v":15,"t":"y"},{"i":246,"v":20,"t":"y"},{"i":247,"v":30,"t":"y"},{"i":248,"v":45,"t":"y"},{"i":249,"v":40,"t":"y"},{"i":250,"v":45,"t":"y"},{"i":251,"v":30,"t":"y"},{"i":252,"v":20,"t":"y"},{"i":253,"v":25,"t":"y"},{"i":255,"v":-15,"t":"p"},{"i":257,"v":-40,"t":"p"},{"i":258,"v":-20,"t":"p"},{"i":259,"v":10,"t":"y"},{"i":260,"v":-15,"t":"p"},{"i":261,"v":-20,"t":"p"},{"i":263,"v":-170,"t":"p"}
 ]
},
"vconcat": [
 {
  "width": 607, "height": 229,
  "layer": [
   {"data": {"name": "grid"}, "mark": {"type": "rule", "color": "#3c3c3c", "strokeDash": [1, 2]},
    "encoding": {"x": {"field": "i", "type": "quantitative", "scale": {"domain": [-1, 306], "nice": false, "zero": false}}}},
   {"data": {"values": [{}]}, "mark": {"type": "rule", "color": "#1c1c90", "strokeWidth": 1},
    "encoding": {"y": {"datum": 1.4071, "type": "quantitative", "scale": {"domain": [1.2192, 1.6223], "nice": false, "zero": false}}}},
   {"data": {"name": "bma"}, "mark": {"type": "line", "color": "#22226e", "strokeWidth": 0.7, "interpolate": "monotone"},
    "encoding": {"x": {"field": "i", "type": "quantitative"}, "y": {"field": "p", "type": "quantitative"}, "detail": {"field": "k"}}},
   {"data": {"name": "lma"}, "mark": {"type": "line", "strokeWidth": 1, "interpolate": "monotone"},
    "encoding": {"x": {"field": "i", "type": "quantitative"}, "y": {"field": "p", "type": "quantitative"}, "detail": {"field": "seg"},
     "color": {"field": "d", "type": "nominal", "scale": {"domain": ["up", "dn"], "range": ["#1c781c", "#8c1020"]}, "legend": null}}},
   {"data": {"name": "px"}, "mark": {"type": "rule", "color": "#6c6c6c", "strokeWidth": 1},
    "encoding": {"x": {"field": "i", "type": "quantitative"}, "y": {"field": "l", "type": "quantitative"}, "y2": {"field": "h"}}},
   {"data": {"name": "px"}, "mark": {"type": "bar", "size": 1.6},
    "encoding": {"x": {"field": "i", "type": "quantitative"}, "y": {"field": "o", "type": "quantitative"}, "y2": {"field": "c"},
     "color": {"condition": {"test": "datum.c >= datum.o", "value": "#2fb34c"}, "value": "#c35ce6"}}},
   {"data": {"values": [{}]}, "mark": {"type": "rule", "color": "#b3a300", "strokeWidth": 1},
    "encoding": {"x": {"datum": 266.1, "type": "quantitative"}, "y": {"datum": 1.4071, "type": "quantitative"}, "y2": {"datum": 1.4798}}},
   {"data": {"values": [{}]}, "mark": {"type": "point", "shape": "M -1 1 L 0 -1 L 1 1", "size": 70, "filled": false, "stroke": "#b3a300", "strokeWidth": 1, "opacity": 1},
    "encoding": {"x": {"datum": 266.1, "type": "quantitative"}, "y": {"datum": 1.4735, "type": "quantitative"}}},
   {"data": {"values": [{}]}, "mark": {"type": "text", "text": "EURUSD,Daily  1.4076 1.4096 1.4062 1.4071", "align": "left", "baseline": "middle", "fontSize": 4.4, "color": "#a8a8a8"},
    "encoding": {"x": {"datum": 0.6, "type": "quantitative"}, "y": {"datum": 1.6153, "type": "quantitative"}}},
   {"data": {"name": "pt"}, "mark": {"type": "rule", "color": "#707070", "strokeWidth": 1},
    "encoding": {"x": {"datum": 306.2, "type": "quantitative"}, "x2": {"datum": 307.1}, "y": {"field": "v", "type": "quantitative"}}},
   {"data": {"name": "pt"}, "mark": {"type": "text", "align": "left", "baseline": "middle", "fontSize": 4.6, "color": "#8c8c8c"},
    "encoding": {"x": {"datum": 307.8, "type": "quantitative"}, "y": {"field": "v", "type": "quantitative"}, "text": {"field": "v", "type": "quantitative", "format": ".4f"}}},
   {"data": {"values": [{}]}, "mark": {"type": "rect", "color": "#c8c8c8"},
    "encoding": {"x": {"datum": 307.4, "type": "quantitative"}, "x2": {"datum": 315.5}, "y": {"datum": 1.4121, "type": "quantitative"}, "y2": {"datum": 1.4023}}},
   {"data": {"values": [{}]}, "mark": {"type": "text", "text": "1.4071", "align": "left", "baseline": "middle", "fontSize": 4.6, "color": "#101010"},
    "encoding": {"x": {"datum": 308.3, "type": "quantitative"}, "y": {"datum": 1.4071, "type": "quantitative"}}}
  ]
 },
 {
  "width": 607, "height": 42,
  "layer": [
   {"data": {"name": "grid"}, "mark": {"type": "rule", "color": "#3c3c3c", "strokeDash": [1, 2]},
    "encoding": {"x": {"field": "i", "type": "quantitative", "scale": {"domain": [-1, 306], "nice": false, "zero": false}}}},
   {"data": {"name": "tro"}, "mark": {"type": "line", "strokeWidth": 1, "interpolate": "monotone"},
    "encoding": {"x": {"field": "i", "type": "quantitative"},
     "y": {"field": "v", "type": "quantitative", "scale": {"domain": [-1.111, 1.634], "nice": false, "zero": false}},
     "color": {"field": "s", "type": "nominal", "scale": {"domain": ["g", "r"], "range": ["#1f9c1f", "#c01818"]}, "legend": null}}},
   {"data": {"values": [{}]}, "mark": {"type": "text", "text": "TRO_MultiPair_d4_k(Black)  Tools off", "align": "left", "baseline": "middle", "fontSize": 4.4, "color": "#9a9a9a"},
    "encoding": {"x": {"datum": 1, "type": "quantitative"}, "y": {"datum": 1.31, "type": "quantitative"}}},
   {"data": {"values": [{}]}, "mark": {"type": "text", "text": "ATR (14): 196 pips/bar", "align": "left", "baseline": "middle", "fontSize": 5.6, "color": "#c0a000"},
    "encoding": {"x": {"datum": 273.2, "type": "quantitative"}, "y": {"datum": 1.18, "type": "quantitative"}}},
   {"data": {"values": [{}]}, "mark": {"type": "text", "text": "1.4071", "align": "left", "baseline": "middle", "fontSize": 15.5, "color": "#26d426"},
    "encoding": {"x": {"datum": 272.8, "type": "quantitative"}, "y": {"datum": 0.3, "type": "quantitative"}}},
   {"data": {"name": "trt"}, "mark": {"type": "rule", "color": "#707070", "strokeWidth": 1},
    "encoding": {"x": {"datum": 306.2, "type": "quantitative"}, "x2": {"datum": 306.7}, "y": {"field": "v", "type": "quantitative"}}},
   {"data": {"name": "trt"}, "mark": {"type": "text", "align": "left", "baseline": "middle", "fontSize": 3.7, "color": "#8c8c8c"},
    "encoding": {"x": {"datum": 306.9, "type": "quantitative"}, "y": {"field": "v", "type": "quantitative"}, "text": {"field": "s"}}}
  ]
 },
 {
  "width": 607, "height": 33,
  "layer": [
   {"data": {"name": "grid"}, "mark": {"type": "rule", "color": "#3c3c3c", "strokeDash": [1, 2]},
    "encoding": {"x": {"field": "i", "type": "quantitative", "scale": {"domain": [-1, 306], "nice": false, "zero": false}}}},
   {"data": {"name": "cci"}, "transform": [{"filter": "datum.v <= 0"}], "mark": {"type": "area", "color": "#6e5234", "opacity": 0.95},
    "encoding": {"x": {"field": "i", "type": "quantitative"},
     "y": {"field": "v", "type": "quantitative", "scale": {"domain": [-418, 308], "nice": false, "zero": false}},
     "y2": {"datum": 0}}},
   {"data": {"name": "cci"}, "transform": [{"filter": "datum.v >= 0"}], "mark": {"type": "area", "color": "#0c0c9c"},
    "encoding": {"x": {"field": "i", "type": "quantitative"}, "y": {"field": "v", "type": "quantitative"}, "y2": {"datum": 0}}},
   {"data": {"name": "cci"}, "mark": {"type": "line", "color": "#9a9a9a", "strokeWidth": 0.8},
    "encoding": {"x": {"field": "i", "type": "quantitative"}, "y": {"field": "v", "type": "quantitative"}}},
   {"data": {"values": [{}]}, "mark": {"type": "rule", "color": "#b02020", "strokeDash": [1, 1], "strokeWidth": 1},
    "encoding": {"y": {"datum": 0, "type": "quantitative"}}},
   {"data": {"values": [{}]}, "mark": {"type": "text", "text": "CCI (50)", "align": "left", "baseline": "middle", "fontSize": 4.4, "color": "#9a9a9a"},
    "encoding": {"x": {"datum": 1, "type": "quantitative"}, "y": {"datum": 200, "type": "quantitative"}}},
   {"data": {"name": "cct"}, "mark": {"type": "rule", "color": "#707070", "strokeWidth": 1},
    "encoding": {"x": {"datum": 306.2, "type": "quantitative"}, "x2": {"datum": 306.7}, "y": {"field": "v", "type": "quantitative"}}},
   {"data": {"name": "cct"}, "mark": {"type": "text", "align": "left", "baseline": "middle", "fontSize": 3.7, "color": "#8c8c8c"},
    "encoding": {"x": {"datum": 306.9, "type": "quantitative"}, "y": {"field": "v", "type": "quantitative"}, "text": {"field": "s"}}}
  ]
 },
 {
  "width": 607, "height": 29,
  "layer": [
   {"data": {"name": "grid"}, "mark": {"type": "rule", "color": "#3c3c3c", "strokeDash": [1, 2]},
    "encoding": {"x": {"field": "i", "type": "quantitative", "scale": {"domain": [-1, 306], "nice": false, "zero": false}}}},
   {"data": {"name": "vol"}, "mark": {"type": "bar", "size": 1},
    "encoding": {"x": {"field": "i", "type": "quantitative"},
     "y": {"field": "v", "type": "quantitative", "scale": {"domain": [-170, 120], "nice": false, "zero": false}},
     "y2": {"datum": 0},
     "color": {"condition": [{"test": "datum.t == 'g'", "value": "#20cc20"}, {"test": "datum.t == 'p'", "value": "#5b50d0"}], "value": "#d2d200"}}},
   {"data": {"values": [{}]}, "mark": {"type": "text", "text": "PVO Enhanced (20)", "align": "left", "baseline": "middle", "fontSize": 4.4, "color": "#9a9a9a"},
    "encoding": {"x": {"datum": 1, "type": "quantitative"}, "y": {"datum": 70, "type": "quantitative"}}},
   {"data": {"values": [{}]}, "mark": {"type": "text", "text": "FXDD - MetaTrader - (c) 2001-2008 MetaQuotes Software Corp.", "align": "left", "baseline": "middle", "fontSize": 4.4, "color": "#8a8a8a"},
    "encoding": {"x": {"datum": 1, "type": "quantitative"}, "y": {"datum": -130, "type": "quantitative"}}},
   {"data": {"values": [{}]}, "mark": {"type": "text", "text": "Bar Vol Ct:", "align": "left", "baseline": "middle", "fontSize": 5.6, "color": "#c000c0"},
    "encoding": {"x": {"datum": 273.2, "type": "quantitative"}, "y": {"datum": -50, "type": "quantitative"}}},
   {"data": {"values": [{}]}, "mark": {"type": "text", "text": "1665", "align": "right", "baseline": "middle", "fontSize": 5.6, "color": "#c000c0"},
    "encoding": {"x": {"datum": 304, "type": "quantitative"}, "y": {"datum": -50, "type": "quantitative"}}},
   {"data": {"values": [{}]}, "mark": {"type": "text", "text": "% Avg Bar", "align": "left", "baseline": "middle", "fontSize": 5.6, "color": "#1e6ed8"},
    "encoding": {"x": {"datum": 273.2, "type": "quantitative"}, "y": {"datum": -122, "type": "quantitative"}}},
   {"data": {"values": [{}]}, "mark": {"type": "text", "text": "9%", "align": "right", "baseline": "middle", "fontSize": 5.6, "color": "#1e6ed8"},
    "encoding": {"x": {"datum": 304, "type": "quantitative"}, "y": {"datum": -122, "type": "quantitative"}}},
   {"data": {"name": "vlt"}, "mark": {"type": "rule", "color": "#707070", "strokeWidth": 1},
    "encoding": {"x": {"datum": 306.2, "type": "quantitative"}, "x2": {"datum": 306.7}, "y": {"field": "v", "type": "quantitative"}}},
   {"data": {"name": "vlt"}, "mark": {"type": "text", "align": "left", "baseline": "middle", "fontSize": 3.7, "color": "#8c8c8c"},
    "encoding": {"x": {"datum": 306.9, "type": "quantitative"}, "y": {"field": "v", "type": "quantitative"}, "text": {"field": "s"}}},
   {"data": {"name": "dt"}, "mark": {"type": "rule", "color": "#707070", "strokeWidth": 1},
    "encoding": {"x": {"field": "i", "type": "quantitative"}, "y": {"datum": -180, "type": "quantitative"}, "y2": {"datum": -230}}},
   {"data": {"name": "dt"}, "mark": {"type": "text", "align": "left", "baseline": "middle", "fontSize": 4.6, "color": "#8c8c8c", "dx": 2},
    "encoding": {"x": {"field": "i", "type": "quantitative"}, "y": {"datum": -220, "type": "quantitative"}, "text": {"field": "s"}}}
  ]
 }
]
}
